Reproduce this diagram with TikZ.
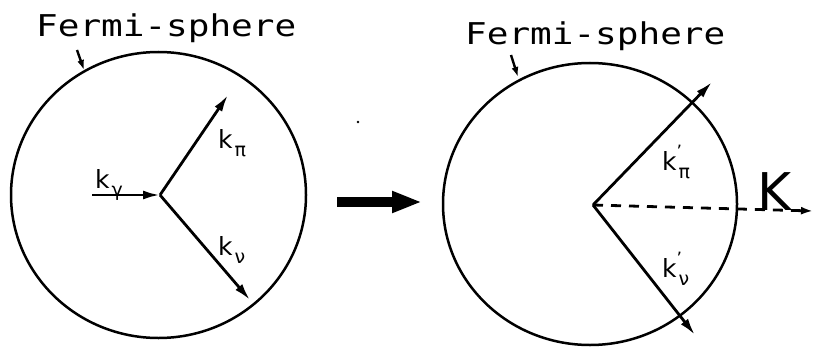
\documentclass[tikz,border=0pt]{standalone}
\usepackage{fontspec}
\setmainfont{DejaVu Sans}
\newfontfamily\plotfont{DejaVu Sans Mono}
\usetikzlibrary{arrows.meta, positioning}

\newcommand{\kvec}[2]{k\rlap{\raisebox{0.5em}{\fontsize{17}{17}\selectfont #2}}\kern2pt\raisebox{-0.32em}{\fontsize{19}{19}\selectfont #1}}

\begin{document}
\begin{tikzpicture}[x=1pt, y=-1pt,
    rim/.style={line width=2.5pt},
    vec/.style={line width=2.8pt, -{Latex[length=17pt, width=9pt]}},
    ptr/.style={line width=2.4pt, -{Latex[length=10pt, width=7pt]}},
    title/.style={font=\plotfont\fontsize{30}{30}\selectfont, inner sep=0pt, anchor=base west},
    lbl/.style={font=\fontsize{25}{25}\selectfont, inner sep=0pt, anchor=base west}
]
    \useasboundingbox (0,0) rectangle (813,350);

    % Fermi-sphere before decay
    \draw[rim] (158.5,195) ellipse [x radius=147.5, y radius=143];
    \node[title] (fs1) at (36,37) {\scalebox{1.2}[1]{Fermi-sphere}};
    \coordinate (p1) at (77,50);
    \coordinate (q1) at (84,70);
    \draw[ptr] (p1) -- (q1);

    \coordinate (v1) at (160,195);
    \coordinate (g) at (92,195);
    \coordinate (pi) at (228,95);
    \coordinate (nu) at (250,300);
    \draw[vec] (g) -- (v1);
    \draw[vec] (v1) -- (pi);
    \draw[vec] (v1) -- (nu);
    \node[lbl] (kg) at (95,188) {\kvec{γ}{}};
    \node[lbl] (kp) at (218,148) {\kvec{π}{}};
    \node[lbl] (kn) at (218,255) {\kvec{ν}{}};

    % transition arrow
    \coordinate (a) at (337,202);
    \coordinate (b) at (422,202);
    \draw[line width=10pt, -{Triangle[length=30pt, width=20pt]}] (a) -- (b);
    \fill (358,122) circle (1.4);

    % Fermi-sphere after decay
    \draw[rim] (590,204) ellipse [x radius=147, y radius=141];
    \node[title] (fs2) at (465,45) {\scalebox{1.2}[1]{Fermi-sphere}};
    \coordinate (p2) at (511,55);
    \coordinate (q2) at (518,77);
    \draw[ptr] (p2) -- (q2);

    \coordinate (v2) at (593,205);
    \coordinate (pi2) at (712,82);
    \coordinate (nu2) at (695,335);
    \coordinate (kk) at (813,211);
    \draw[vec] (v2) -- (pi2);
    \draw[vec] (v2) -- (nu2);
    \draw[line width=2.8pt, dash pattern=on 10pt off 8pt, -{Latex[length=12pt, width=8pt]}] (v2) -- (kk);
    \node[lbl] (kp2) at (662,170) {\kvec{π}{'}};
    \node[lbl] (kn2) at (662,277) {\kvec{ν}{'}};
    \node[font=\fontsize{52}{52}\selectfont, inner sep=0pt, anchor=base west] (K) at (757,210) {K};
\end{tikzpicture}
\end{document}
